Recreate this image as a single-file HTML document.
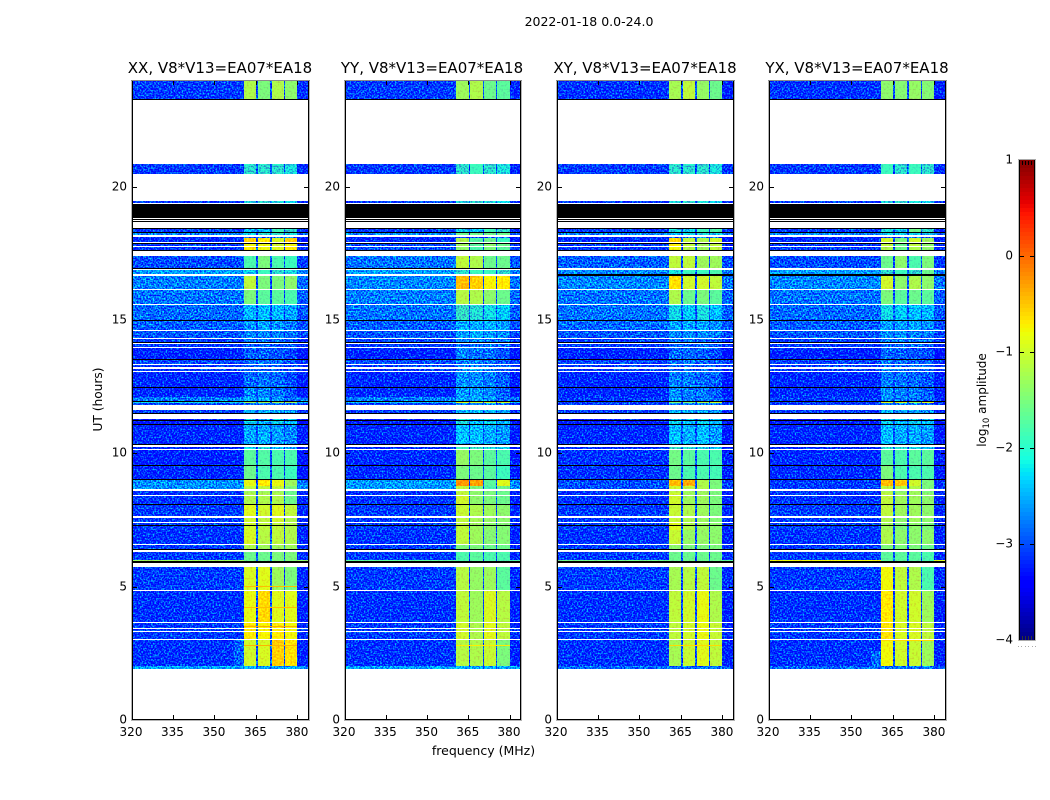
<!DOCTYPE html>
<html lang="en">
<head>
<meta charset="utf-8">
<title>2022-01-18 0.0-24.0</title>
<style>
html,body{margin:0;padding:0;background:#fff;}
svg{display:block;}
text{font-family:"DejaVu Sans","Liberation Sans",sans-serif;fill:#000;}
</style>
</head>
<body>
<svg id="figure" xmlns="http://www.w3.org/2000/svg" width="1050" height="800" viewBox="0 0 1050 800">
  <defs>
    <filter id="speckle-strong" filterUnits="userSpaceOnUse" x="0" y="0" width="1050" height="800" color-interpolation-filters="sRGB">
      <feTurbulence type="fractalNoise" baseFrequency="0.62" numOctaves="1" seed="7" result="t"/>
      <feColorMatrix in="t" type="matrix" values="0 0 0 0 0.5  2.6 0 0 0 -0.9  0 0 0 0 0.5  0 0 0 0 1" result="n"/>
      <feComposite in="SourceGraphic" in2="n" operator="arithmetic" k1="0" k2="1" k3="1" k4="-0.5" result="r"/>
      <feComposite in="r" in2="SourceGraphic" operator="in"/>
    </filter>
    <filter id="speckle-weak" filterUnits="userSpaceOnUse" x="0" y="0" width="1050" height="800" color-interpolation-filters="sRGB">
      <feTurbulence type="fractalNoise" baseFrequency="0.55" numOctaves="1" seed="3" result="t"/>
      <feColorMatrix in="t" type="matrix" values="0 0 0 0 0.5  0.7 0 0 0 0.15  0 0 0 0 0.5  0 0 0 0 1" result="n"/>
      <feComposite in="SourceGraphic" in2="n" operator="arithmetic" k1="0" k2="1" k3="1" k4="-0.5" result="r"/>
      <feComposite in="r" in2="SourceGraphic" operator="in"/>
    </filter>
  </defs>
  <text x="589" y="26" font-size="12.5" text-anchor="middle">2022-01-18 0.0-24.0</text>
  <text x="220" y="73" font-size="15" text-anchor="middle">XX, V8*V13=EA07*EA18</text>
  <text x="432" y="73" font-size="15" text-anchor="middle">YY, V8*V13=EA07*EA18</text>
  <text x="645" y="73" font-size="15" text-anchor="middle">XY, V8*V13=EA07*EA18</text>
  <text x="857" y="73" font-size="15" text-anchor="middle">YX, V8*V13=EA07*EA18</text>
  <text transform="translate(102,399.5) rotate(-90)" font-size="12.2" text-anchor="middle">UT (hours)</text>
  <text x="483.5" y="755" font-size="12.5" text-anchor="middle">frequency (MHz)</text>
  <text transform="translate(986,400) rotate(-90)" font-size="12" text-anchor="middle">log<tspan font-size="8.5" dy="3">10</tspan><tspan dy="-3"> amplitude</tspan></text>
  <g id="panels"></g>
  <g id="colorbar"></g>
</svg>
<script>
/* UT hours of each integration block (white = no data, simply no cell) */
const rowStart = [24.00,20.85,19.46,18.41,18.25,18.13,18.08,17.84,17.74,17.40,16.88,16.66,16.13,15.56,14.96,14.59,14.29,14.09,13.95,13.50,13.31,13.18,13.05,12.45,12.12,11.93,11.88,11.62,11.30,11.05,10.24,10.125,9.54,9.01,8.78,8.59,8.50,8.40,8.05,7.59,7.39,7.125,6.56,6.31,5.99,5.74,4.84,3.62,3.41,3.30,3.00,2.02];
const rowEnd   = [23.29,20.49,19.38,18.29,18.19,18.08,17.91,17.78,17.64,16.94,16.71,16.16,15.60,14.99,14.63,14.33,14.16,13.98,13.54,13.35,13.22,13.09,12.49,12.12,11.96,11.88,11.81,11.50,11.11,10.35,10.15,9.58,9.04,8.78,8.66,8.53,8.42,8.10,7.65,7.42,7.14,6.60,6.43,5.99,5.96,4.86,3.66,3.45,3.33,3.03,2.02,1.92];
/* black (zeroed) integrations */
const blackStart = [23.29,19.35,18.79,18.71,18.44,18.29,17.87,17.63,14.99,14.16,13.54,12.49,11.95,11.53,11.25,11.11,10.35,9.58,9.04,8.10,7.31,6.43,5.96];
const blackEnd   = [23.26,18.84,18.75,18.67,18.41,18.25,17.84,17.57,14.96,14.12,13.50,12.45,11.93,11.50,11.22,11.05,10.33,9.54,9.01,8.05,7.28,6.39,5.90];
const parallelBlack = [[16.94,16.90]];
const crossBlack = [[16.71,16.66]];
/* frequency cell edges, MHz */
const bandEdges = [320,360.5,365.1,365.7,370.2,370.7,375,375.6,380,384];
/* log10 amplitude per row: [background, window 1..4] */
const levelsXX = [
[-3.0,-1.2,-1.5,-1.2,-1.4],[-3.0,-2.0,-2.0,-2.0,-2.1],[-3.0,-2.1,-2.0,-2.1,-2.2],[-3.0,-2.3,-2.3,-1.9,-2.0],[-2.6,-2.2,-2.0,-2.0,-2.1],[-3.2,-2.9,-2.8,-2.8,-2.8],
[-3.1,-0.55,-0.7,-0.95,-0.55],[-3.0,-0.8,-0.8,-1.0,-0.8],[-3.0,-0.7,-0.8,-0.9,-0.7],[-2.9,-1.8,-1.5,-1.8,-1.9],[-2.5,-2.2,-1.9,-2.0,-2.1],[-2.65,-1.1,-1.5,-1.5,-1.4],
[-2.7,-1.5,-1.7,-1.7,-1.8],[-2.75,-2.35,-2.3,-2.35,-2.45],[-2.8,-2.55,-2.45,-2.55,-2.65],[-2.85,-2.6,-2.55,-2.6,-2.7],[-3.0,-2.7,-2.65,-2.7,-2.8],[-3.0,-2.8,-2.75,-2.8,-2.85],
[-3.15,-2.8,-2.8,-2.85,-2.95],[-2.95,-2.7,-2.7,-2.75,-2.85],[-3.0,-2.8,-2.75,-2.8,-2.9],[-3.0,-2.8,-2.75,-2.8,-2.9],[-3.1,-2.75,-2.7,-2.75,-2.9],[-3.1,-2.6,-2.6,-2.7,-2.85],
[-2.65,-2.4,-2.4,-2.5,-2.75],[-2.2,-1.3,-1.3,-1.3,-1.3],[-3.0,-2.7,-2.7,-2.7,-2.8],[-3.0,-2.4,-2.4,-2.5,-2.5],[-3.2,-2.2,-2.4,-2.2,-2.3],[-3.1,-2.45,-2.4,-2.5,-2.6],
[-3.1,-2.2,-2.1,-2.3,-2.4],[-3.15,-1.7,-1.75,-1.8,-1.8],[-3.1,-1.6,-1.8,-1.8,-1.9],[-2.55,-0.85,-0.7,-0.85,-1.3],[-2.55,-1.1,-1.1,-1.1,-1.5],[-3.05,-1.3,-1.3,-1.3,-1.6],
[-3.05,-1.2,-1.2,-1.2,-1.6],[-3.05,-1.2,-1.2,-1.2,-1.6],[-3.0,-0.9,-1.0,-0.9,-1.1],[-3.0,-1.0,-1.1,-1.0,-1.2],[-3.0,-1.0,-1.1,-1.1,-1.2],[-3.05,-0.95,-1.15,-1.1,-1.2],
[-3.0,-1.2,-1.3,-1.3,-1.3],[-3.0,-1.6,-1.6,-1.5,-1.5],[-1.3,-1.6,-1.6,-1.5,-1.5],[-3.0,-0.95,-0.9,-1.3,-1.5],[-3.05,-0.85,-0.6,-0.9,-0.9],[-3.0,-0.7,-0.75,-0.7,-0.8],
[-3.0,-0.7,-0.75,-0.7,-0.8],[-3.0,-0.7,-0.75,-0.7,-0.8],[-3.05,-1.0,-0.95,-0.55,-0.65],[-2.45,-2.4,-2.4,-2.4,-2.4]];
const levelsYY = [
[-3.0,-1.3,-1.2,-1.6,-1.7],[-3.0,-2.0,-1.9,-2.0,-2.1],[-3.0,-2.1,-2.0,-2.1,-2.2],[-3.0,-2.2,-2.3,-1.9,-2.0],[-2.6,-1.6,-1.6,-1.6,-1.6],[-3.2,-2.9,-2.8,-2.8,-2.8],
[-3.1,-1.2,-1.75,-1.6,-1.9],[-2.9,-1.3,-1.7,-1.4,-1.6],[-2.9,-1.4,-1.8,-1.5,-1.7],[-2.7,-1.1,-1.2,-1.6,-1.6],[-2.5,-2.0,-1.9,-1.9,-2.0],[-2.6,-0.45,-0.55,-0.75,-0.7],
[-2.65,-1.15,-1.2,-1.4,-1.6],[-2.7,-1.95,-2.05,-2.15,-2.25],[-2.8,-2.4,-2.4,-2.35,-2.5],[-2.85,-2.5,-2.4,-2.5,-2.6],[-2.95,-2.6,-2.6,-2.7,-2.7],[-3.0,-2.7,-2.7,-2.7,-2.8],
[-3.15,-2.6,-2.7,-2.7,-2.85],[-2.9,-2.6,-2.6,-2.7,-2.8],[-3.0,-2.6,-2.6,-2.7,-2.85],[-3.0,-2.6,-2.6,-2.7,-2.85],[-3.1,-2.55,-2.55,-2.65,-2.8],[-3.1,-2.5,-2.5,-2.6,-2.8],
[-2.65,-2.4,-2.4,-2.5,-2.7],[-2.3,-0.9,-1.0,-1.0,-1.0],[-3.0,-2.6,-2.6,-2.6,-2.75],[-3.0,-2.3,-2.35,-2.35,-2.45],[-3.2,-2.1,-2.3,-2.2,-2.3],[-3.1,-2.3,-2.3,-2.4,-2.5],
[-3.1,-1.9,-1.95,-2.1,-2.2],[-3.1,-1.35,-1.5,-1.7,-1.8],[-3.1,-1.5,-1.6,-1.7,-1.9],[-2.5,-0.25,-0.3,-1.7,-0.9],[-2.5,-1.1,-1.5,-1.8,-1.6],[-3.05,-1.1,-1.4,-1.5,-1.6],
[-3.05,-1.1,-1.4,-1.5,-1.6],[-3.05,-1.0,-1.4,-1.5,-1.6],[-3.0,-1.05,-1.2,-1.3,-1.4],[-3.0,-1.1,-1.25,-1.35,-1.4],[-3.0,-1.1,-1.3,-1.4,-1.45],[-3.05,-1.1,-1.3,-1.45,-1.45],
[-3.0,-1.5,-1.5,-1.6,-1.6],[-3.0,-1.8,-1.7,-1.8,-1.8],[-1.7,-1.8,-1.7,-1.8,-1.8],[-3.0,-1.15,-1.35,-1.3,-1.7],[-3.05,-1.1,-1.3,-0.95,-1.15],[-3.0,-1.0,-1.2,-0.9,-1.1],
[-3.0,-1.0,-1.2,-0.9,-1.1],[-3.0,-1.0,-1.2,-0.9,-1.1],[-3.05,-1.15,-1.2,-1.05,-1.5],[-2.45,-2.4,-2.4,-2.4,-2.4]];
const levelsXY = [
[-3.05,-1.25,-1.1,-1.35,-1.6],[-3.0,-2.0,-2.0,-2.0,-2.1],[-3.0,-2.1,-2.0,-2.1,-2.2],[-3.0,-2.1,-2.2,-1.9,-1.8],[-2.6,-2.3,-2.2,-2.1,-2.2],[-3.2,-2.9,-2.8,-2.8,-2.8],
[-3.1,-0.6,-1.1,-1.2,-1.0],[-3.0,-0.7,-1.1,-1.3,-1.1],[-3.0,-0.8,-1.2,-1.3,-1.1],[-2.8,-1.1,-1.1,-1.3,-1.3],[-2.6,-2.1,-1.9,-1.9,-1.8],[-2.6,-0.65,-1.0,-1.0,-1.1],
[-2.7,-1.2,-1.6,-1.5,-1.7],[-2.7,-2.15,-2.25,-2.1,-2.3],[-2.75,-2.45,-2.45,-2.45,-2.55],[-2.85,-2.55,-2.55,-2.55,-2.65],[-3.0,-2.65,-2.65,-2.75,-2.75],[-3.0,-2.75,-2.75,-2.75,-2.85],
[-3.15,-2.75,-2.75,-2.8,-2.9],[-2.95,-2.75,-2.7,-2.75,-2.85],[-3.0,-2.75,-2.75,-2.75,-2.85],[-3.0,-2.75,-2.75,-2.75,-2.85],[-3.1,-2.65,-2.65,-2.75,-2.8],[-3.1,-2.55,-2.65,-2.65,-2.8],
[-3.0,-2.5,-2.65,-2.65,-2.8],[-3.0,-1.5,-1.5,-1.2,-1.0],[-3.0,-2.65,-2.65,-2.65,-2.75],[-3.0,-2.35,-2.45,-2.45,-2.55],[-3.2,-2.2,-2.3,-2.2,-2.3],[-3.1,-2.3,-2.4,-2.3,-2.5],
[-3.1,-1.95,-2.05,-2.15,-2.25],[-3.05,-1.55,-1.7,-1.8,-1.8],[-3.05,-1.6,-1.8,-1.8,-1.85],[-2.9,-0.45,-0.35,-1.2,-1.5],[-2.9,-1.0,-1.1,-1.2,-1.5],[-3.05,-1.1,-1.3,-1.3,-1.5],
[-3.05,-1.0,-1.3,-1.3,-1.5],[-3.05,-1.0,-1.3,-1.3,-1.5],[-3.0,-1.05,-1.2,-1.3,-1.5],[-3.0,-1.05,-1.2,-1.3,-1.45],[-3.0,-0.9,-1.2,-1.3,-1.4],[-3.05,-1.05,-1.35,-1.35,-1.4],
[-3.0,-1.4,-1.5,-1.5,-1.5],[-3.0,-1.6,-1.6,-1.6,-1.6],[-1.6,-1.6,-1.6,-1.6,-1.6],[-3.0,-1.25,-1.15,-1.1,-1.6],[-3.05,-1.1,-1.0,-0.85,-1.2],[-3.0,-1.1,-1.0,-0.85,-1.05],
[-3.0,-1.1,-1.0,-0.85,-1.05],[-3.0,-1.1,-1.0,-0.85,-1.05],[-3.05,-1.25,-1.05,-0.9,-1.1],[-2.75,-2.7,-2.7,-2.7,-2.7]];
const levelsYX = [
[-3.05,-1.4,-1.45,-1.35,-1.45],[-3.0,-1.9,-2.0,-1.9,-2.0],[-3.0,-2.1,-2.0,-2.1,-2.2],[-3.0,-2.1,-2.2,-1.6,-2.0],[-2.6,-2.2,-2.2,-2.2,-2.2],[-3.2,-2.9,-2.8,-2.8,-2.8],
[-3.1,-1.0,-1.5,-1.0,-1.3],[-3.0,-1.1,-1.6,-1.1,-1.4],[-3.0,-1.2,-1.6,-1.2,-1.4],[-2.9,-1.6,-1.4,-1.8,-1.5],[-2.5,-2.0,-1.9,-2.0,-1.6],[-2.6,-1.0,-1.4,-1.2,-1.4],
[-2.7,-1.5,-1.7,-1.6,-1.7],[-2.75,-2.15,-2.25,-2.3,-2.35],[-2.8,-2.45,-2.45,-2.45,-2.55],[-2.85,-2.55,-2.55,-2.65,-2.65],[-3.0,-2.65,-2.65,-2.75,-2.75],[-3.0,-2.75,-2.75,-2.75,-2.85],
[-3.15,-2.75,-2.8,-2.85,-2.9],[-2.95,-2.65,-2.7,-2.75,-2.8],[-3.0,-2.75,-2.75,-2.75,-2.85],[-3.0,-2.75,-2.75,-2.75,-2.85],[-3.1,-2.65,-2.7,-2.75,-2.85],[-3.1,-2.55,-2.65,-2.65,-2.8],
[-3.0,-2.55,-2.65,-2.65,-2.8],[-3.0,-0.9,-0.9,-1.3,-0.9],[-3.0,-2.65,-2.65,-2.65,-2.75],[-3.0,-2.35,-2.45,-2.45,-2.55],[-3.2,-2.2,-2.3,-2.2,-2.3],[-3.1,-2.3,-2.4,-2.4,-2.5],
[-3.1,-2.05,-2.05,-2.15,-2.25],[-3.1,-1.7,-1.8,-1.7,-1.7],[-3.1,-1.5,-1.8,-1.8,-1.8],[-3.0,-0.45,-0.5,-1.0,-1.5],[-3.0,-1.1,-1.2,-1.2,-1.5],[-3.05,-1.2,-1.4,-1.3,-1.5],
[-3.05,-1.1,-1.3,-1.3,-1.4],[-3.05,-1.1,-1.3,-1.3,-1.4],[-3.0,-1.1,-1.3,-1.3,-1.4],[-3.0,-1.2,-1.4,-1.3,-1.4],[-3.0,-1.3,-1.5,-1.4,-1.5],[-3.05,-1.2,-1.4,-1.4,-1.4],
[-3.0,-1.5,-1.5,-1.5,-1.6],[-3.0,-1.7,-1.7,-1.7,-1.8],[-0.8,-1.7,-1.7,-1.7,-1.8],[-3.0,-0.8,-1.1,-1.2,-1.8],[-3.05,-0.7,-1.0,-1.0,-1.3],[-3.0,-0.65,-0.95,-0.95,-1.1],
[-3.0,-0.65,-0.95,-0.95,-1.1],[-3.0,-0.65,-0.95,-0.95,-1.1],[-3.05,-0.8,-1.0,-1.05,-1.3],[-2.75,-2.7,-2.7,-2.7,-2.7]];
const gapLevel = -2.9;
/* faint shoulder just below the first window: [panel, startHour, endHour, level] */
const shoulderPatches = [[0,3.00,2.02,-2.8],[3,2.60,2.02,-2.75]];
const shoulderBand = [357.2,360.5];
/* narrow RFI lines across the windows: [panel, hour, level] */
const windowLines = [[0,5.02,-0.45],[0,4.25,-0.45],[0,3.54,-0.35],[0,2.8,-0.4],[1,2.8,-0.7],[2,2.8,-0.6],[3,3.0,-0.6]];
const xTicks = [320,335,350,365,380];
const yTicks = [0,5,10,15,20];
const colorbarTicks = [1,0,-1,-2,-3,-4];
const panelNames = ['xx','yy','xy','yx'];
const panelLevels = [levelsXX,levelsYY,levelsXY,levelsYX];
const panelLeft  = [131.5,344.5,556.5,768.5];
const panelRight = [308.5,520.5,733.5,945.5];

const SVGNS = 'http://www.w3.org/2000/svg';
const AX_TOP = 80, AX_BOTTOM = 720;
function yScale(hour){ return AX_BOTTOM - (hour/24)*(AX_BOTTOM-AX_TOP); }
function xScale(i,freq){ return panelLeft[i] + (freq-320)/64*(panelRight[i]-panelLeft[i]); }
function cScale(v){ return 640 - (v+4)/5*480; }
function jet(v){
  const t = Math.min(1,Math.max(0,(v+4)/5));
  const ch = function(pts){
    for(let k=1;k<pts.length;k++){
      if(t<=pts[k][0]){
        const a=pts[k-1],b=pts[k];
        return a[1]+(b[1]-a[1])*(t-a[0])/(b[0]-a[0]);
      }
    }
    return pts[pts.length-1][1];
  };
  const r=ch([[0,0],[0.35,0],[0.66,1],[0.89,1],[1,0.5]]);
  const g=ch([[0,0],[0.125,0],[0.375,1],[0.64,1],[0.91,0],[1,0]]);
  const b=ch([[0,0.5],[0.11,1],[0.34,1],[0.65,0],[1,0]]);
  return 'rgb('+Math.round(r*255)+','+Math.round(g*255)+','+Math.round(b*255)+')';
}
function make(tag,parent){
  const el=document.createElementNS(SVGNS,tag);
  parent.appendChild(el);
  return el;
}
function box(el,x,y,w,h,fill){
  el.setAttribute('x',x);
  el.setAttribute('y',y);
  el.setAttribute('width',w);
  el.setAttribute('height',h);
  el.setAttribute('fill',fill);
  el.setAttribute('shape-rendering','crispEdges');
}
function drawPanel(i){
  const root=document.getElementById('panels');
  const levels=panelLevels[i];
  const name=panelNames[i];
  const g=make('g',root);
  
  
  const L=panelLeft[i],R=panelRight[i];
  const bgGroup=make('g',g);
  
  
  bgGroup.setAttribute('filter','url(#speckle-strong)');
  const winGroup=make('g',g);
  
  
  winGroup.setAttribute('filter','url(#speckle-weak)');
  for(let r=0;r<rowStart.length;r++){
    const y0=Math.round(yScale(rowStart[r]));
    const y1=Math.max(y0+1,Math.round(yScale(rowEnd[r])));
    const top=Math.max(y0,81), h=Math.min(y1,719)-top;
    const row=levels[r];
    const vals=[row[0],row[1],gapLevel,row[2],gapLevel,row[3],gapLevel,row[4],row[0]-0.1];
    for(let c=0;c<vals.length;c++){
      const x0=Math.round(xScale(i,bandEdges[c]));
      const x1=Math.max(x0+1,Math.round(xScale(i,bandEdges[c+1])));
      const noisy=(vals[c]<-1.9);
      const cell=make('rect',noisy?bgGroup:winGroup);
      
      
      const left=Math.max(x0,Math.ceil(L)+1), right=Math.min(x1,Math.floor(R));
      box(cell,left,top,right-left,h,jet(vals[c]));
    }
  }
  /* shoulder patches just below the first window */
  shoulderPatches.forEach(function(p){
    if(p[0]!==i){ return; }
    const patch=make('rect',bgGroup);
    
    
    const x0=Math.round(xScale(i,shoulderBand[0]));
    const x1=Math.round(xScale(i,shoulderBand[1]));
    const y0=Math.round(yScale(p[1]));
    const y1=Math.round(yScale(p[2]));
    box(patch,x0,y0,x1-x0,y1-y0,jet(p[3]));
  });
  /* thin lines across the windows */
  windowLines.forEach(function(p){
    if(p[0]!==i){ return; }
    const line=make('rect',g);
    
    
    const x0=Math.round(xScale(i,bandEdges[1]));
    const x1=Math.round(xScale(i,bandEdges[8]));
    box(line,x0,Math.round(yScale(p[1])),x1-x0,1,jet(p[2]));
  });
  const blacks=[];
  for(let b=0;b<blackStart.length;b++){ blacks.push([blackStart[b],blackEnd[b]]); }
  (i<2?parallelBlack:crossBlack).forEach(function(p){ blacks.push(p); });
  blacks.forEach(function(p){
    const y0=Math.round(yScale(p[0]));
    const y1=Math.max(y0+1,Math.round(yScale(p[1])));
    const line=make('rect',g);
    
    
    box(line,Math.ceil(L),y0,Math.floor(R)-Math.ceil(L),y1-y0,'#000');
  });
  /* spines */
  const x0=Math.floor(L), x1=Math.floor(R);
  const spines=[[x0,80,1,641,'#b4b4b4'],[x0+1,80,1,640,'#000'],[x1,80,1,640,'#000'],[x1+1,80,1,641,'#b4b4b4'],[x0,80,x1-x0+2,1,'#8a8a8a'],[x0+1,719,x1-x0,1,'#000'],[x0,720,x1-x0+2,1,'#b4b4b4']];
  spines.forEach(function(s){
    const sp=make('rect',g);
    
    
    box(sp,s[0],s[1],s[2],s[3],s[4]);
  });
  /* x ticks */
  xTicks.forEach(function(t){
    const x=Math.round(xScale(i,t));
    [[AX_BOTTOM-5],[AX_TOP+1]].forEach(function(yy){
      const tick=make('rect',g);
      
      
      box(tick,x,yy[0],1,4,'#000');
    });
    const lab=make('text',g);
    
    
    lab.setAttribute('x',xScale(i,t)-0.5);
    lab.setAttribute('y',736);
    lab.setAttribute('font-size','12');
    lab.setAttribute('text-anchor','middle');
    lab.textContent=String(t);
  });
  /* y ticks */
  yTicks.forEach(function(t){
    const y=Math.round(yScale(t));
    if(t>0){
      [x0+2,x1-4].forEach(function(xx){
        const tick=make('rect',g);
        
        
        box(tick,xx,y,4,1,'#000');
      });
    }
    const lab=make('text',g);
    
    
    lab.setAttribute('x',x0-4);
    lab.setAttribute('y',y+3.5);
    lab.setAttribute('font-size','12');
    lab.setAttribute('text-anchor','end');
    lab.textContent=String(t);
  });
}
function drawColorbar(){
  const g=document.getElementById('colorbar');
  const cx0=1020,cx1=1034;
  for(let p=0;p<480;p+=4){
    const v=1-(p+2)/480*5;
    const seg=make('rect',g);
    
    
    box(seg,cx0,160+p,cx1-cx0,4,jet(v));
  }
  const frame=[[1018,159,1,482,'#bdbdbd'],[1019,160,1,480,'#000'],[1034,160,1,480,'#000'],[1035,159,1,482,'#bdbdbd'],[1018,159,18,1,'#aaa'],[1019,640,16,1,'#aaa']];
  frame.forEach(function(s){
    const sp=make('rect',g);
    
    
    box(sp,s[0],s[1],s[2],s[3],s[4]);
  });
  colorbarTicks.forEach(function(t){
    const y=Math.round(cScale(t));
    if(t>-4&&t<1){
      [1020,1030].forEach(function(xx){
        const tick=make('rect',g);
        
        
        box(tick,xx,y,4,1,'#000');
      });
    }
    const lab=make('text',g);
    
    
    lab.setAttribute('x',1013);
    lab.setAttribute('y',y+3.5);
    lab.setAttribute('font-size','12');
    lab.setAttribute('text-anchor','end');
    lab.textContent=(t<0?'\u2212':'')+Math.abs(t);
  });
  [1021.5,1024.5,1027.5,1030.5].forEach(function(xx){
    [[161],[636]].forEach(function(yy){
      const tick=make('rect',g);
      
      
      box(tick,Math.round(xx),yy[0],1,4,yy[0]<200?'#000':'#333');
    });
  });
  [1017.5,1021,1024.5,1028,1031.5,1035].forEach(function(xx){
    const dot=make('rect',g);
    
    
    box(dot,Math.round(xx),646,1,1,'#aaa');
  });
}
for(let i=0;i<4;i++){ drawPanel(i); }
drawColorbar();
</script>
</body>
</html>
